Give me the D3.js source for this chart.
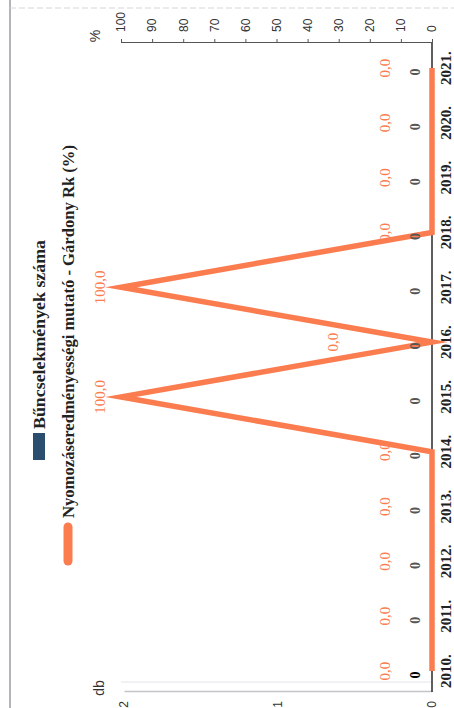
<!DOCTYPE html>
<html>
<head>
<meta charset="utf-8">
<script src="https://cdn.jsdelivr.net/npm/d3@7"></script>
<style>
  html, body { margin: 0; padding: 0; background: #fff; }
  svg { display: block; }
</style>
</head>
<body>
<svg id="chart" width="454" height="708"></svg>
<script>
// ---- data ----
const years = ["2010.", "2011.", "2012.", "2013.", "2014.", "2015.", "2016.", "2017.", "2018.", "2019.", "2020.", "2021."];
const crimeCounts = [0, 0, 0, 0, 0, 0, 0, 0, 0, 0, 0, 0];
const clearanceRate = [0, 0, 0, 0, 0, 100, 0, 100, 0, 0, 0, 0];
const rightTicks = [0, 10, 20, 30, 40, 50, 60, 70, 80, 90, 100];
const leftTicks = [0, 1, 2];
const seriesNames = ["Bűncselekmények száma", "Nyomozáseredményességi mutató - Gárdony Rk (%)"];
const leftUnit = "db";
const rightUnit = "%";

// ---- layout (chart drawn in 708x454 frame, rotated -90deg) ----
const W = 708, H = 454;
const BLUE = "#2b4d6e", ORANGE = "#fb7c4f";
const serif = "'Liberation Serif', 'DejaVu Serif', serif";
const sans = "'Liberation Sans', Arial, sans-serif";

const svg = d3.select("#chart");
const g = svg.append("g").attr("transform", `translate(0,${W}) rotate(-90)`);

// frame
g.append("line").attr("x1", 0).attr("x2", W).attr("y1", 10).attr("y2", 10)
  .attr("stroke", "#9a9aa6").attr("stroke-width", 1.5);
g.append("line").attr("x1", 700).attr("x2", 700).attr("y1", 10).attr("y2", H)
  .attr("stroke", "#d6d6de").attr("stroke-width", 1).attr("stroke-dasharray", "6,3");

const plotL = 16, plotR = 665, plotT = 121, plotB = 432;
const x = d3.scalePoint().domain(years).range([37, 640]);
const yR = d3.scaleLinear().domain([0, 100]).range([plotB, plotT]);
const yL = d3.scaleLinear().domain([0, 2]).range([plotB, plotT + 3]);

// left axis (db)
const la = g.append("g").attr("transform", `translate(${plotL},0)`)
  .call(d3.axisLeft(yL).tickValues(leftTicks).tickSize(0).tickPadding(9).tickFormat(d3.format("d")));
la.select(".domain").attr("stroke", "#c4c4c8").attr("stroke-width", 1.5);
la.selectAll("text").attr("font-family", sans).attr("font-size", 12).attr("fill", "#333");
g.append("line").attr("x1", plotL + 10).attr("x2", plotL + 10).attr("y1", plotT).attr("y2", plotB)
  .attr("stroke", "#e4e4e8").attr("stroke-width", 1);

// right axis (%)
const ra = g.append("g").attr("transform", `translate(${plotR},0)`)
  .call(d3.axisRight(yR).tickValues(rightTicks).tickSize(4).tickSizeOuter(0).tickPadding(7).tickFormat(d3.format("d")));
ra.select(".domain").attr("stroke", "#555").attr("stroke-width", 1);
ra.selectAll(".tick line").attr("stroke", "#555");
ra.selectAll("text").attr("font-family", sans).attr("font-size", 12).attr("fill", "#333");

// category axis
g.append("line").attr("x1", plotL).attr("x2", plotR).attr("y1", plotB).attr("y2", plotB)
  .attr("stroke", "#2a2a2a").attr("stroke-width", 1.5);
g.selectAll("text.year").data(years).join("text")
  .attr("class", "year")
  .attr("x", d => x(d)).attr("y", 451)
  .attr("text-anchor", "middle")
  .attr("font-family", serif).attr("font-weight", "bold").attr("font-size", 15)
  .attr("fill", "#222").text(d => d);

// unit labels
g.append("text").attr("x", 20).attr("y", 104).attr("text-anchor", "middle")
  .attr("font-family", sans).attr("font-size", 14).attr("fill", "#333").text(leftUnit);
g.append("text").attr("x", 672).attr("y", 100).attr("text-anchor", "middle")
  .attr("font-family", sans).attr("font-size", 14).attr("fill", "#333").text(rightUnit);

// blue bars (all zero height)
g.selectAll("rect.bar").data(crimeCounts).join("rect")
  .attr("class", "bar")
  .attr("x", (d, i) => x(years[i]) - 8).attr("width", 16)
  .attr("y", d => yL(d)).attr("height", d => plotB - yL(d))
  .attr("fill", BLUE);

// orange line
const line = d3.line().x((d, i) => x(years[i])).y(d => yR(d));
g.append("path").datum(clearanceRate)
  .attr("d", line).attr("fill", "none")
  .attr("stroke", ORANGE).attr("stroke-width", 5.5)
  .attr("stroke-linejoin", "miter").attr("stroke-miterlimit", 10);

// blue value labels
g.selectAll("text.blbl").data(crimeCounts).join("text")
  .attr("class", "blbl")
  .attr("x", (d, i) => x(years[i]) - 4).attr("y", d => yL(d) - 17)
  .attr("text-anchor", "middle").attr("dominant-baseline", "central")
  .attr("font-family", serif).attr("font-weight", "bold").attr("font-size", 14)
  .attr("fill", (d, i) => i === 0 ? "#000" : "#555").text(d => d);

// orange value labels
const fmt = v => d3.format(".1f")(v).replace(".", ",");
g.selectAll("text.olbl").data(clearanceRate).join("text")
  .attr("class", "olbl")
  .attr("x", (d, i) => x(years[i]))
  .attr("y", (d, i) => {
    if (d > 0) return yR(d) - 21;
    const prev = clearanceRate[i - 1], next = clearanceRate[i + 1];
    if (prev > 0 && next > 0) return yR(d) - 99;
    return yR(d) - 47;
  })
  .attr("text-anchor", "middle").attr("dominant-baseline", "central")
  .attr("font-family", serif).attr("font-size", 15)
  .attr("fill", ORANGE).text(d => fmt(d));

// legend
const lg = g.append("g");
lg.append("rect").attr("x", 248).attr("y", 33).attr("width", 27).attr("height", 12).attr("fill", BLUE);
lg.append("text").attr("x", 279).attr("y", 45)
  .attr("font-family", serif).attr("font-weight", "bold").attr("font-size", 16)
  .attr("fill", "#222").attr("textLength", 189).attr("lengthAdjust", "spacingAndGlyphs")
  .text(seriesNames[0]);
lg.append("line").attr("x1", 147).attr("x2", 181).attr("y1", 68).attr("y2", 68)
  .attr("stroke", ORANGE).attr("stroke-width", 9).attr("stroke-linecap", "round");
lg.append("text").attr("x", 190).attr("y", 74)
  .attr("font-family", serif).attr("font-weight", "bold").attr("font-size", 16)
  .attr("fill", "#222").attr("textLength", 373).attr("lengthAdjust", "spacingAndGlyphs")
  .text(seriesNames[1]);
</script>
</body>
</html>
